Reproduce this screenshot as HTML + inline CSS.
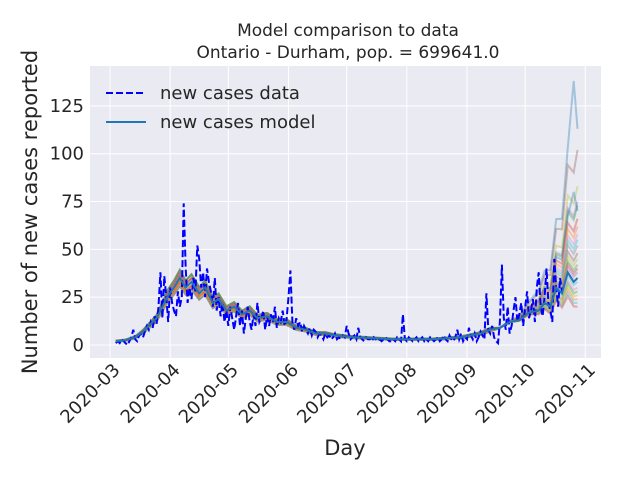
<!DOCTYPE html>
<html><head><meta charset="utf-8"><style>
body{margin:0;background:#fff;}
svg{font-family:"DejaVu Sans","Liberation Sans",sans-serif;}
</style></head><body>
<svg id="c" width="640" height="480">
<rect x="0" y="0" width="640" height="480" fill="#fff"/>
<rect x="90" y="66" width="511" height="292" fill="#eaeaf2"/>
<g id="grid"></g><g id="ens"></g><g id="series"></g><g id="axes"></g>
<text x="348" y="36" text-anchor="middle" font-size="17" fill="#262626">Model comparison to data</text>
<text x="348" y="58" text-anchor="middle" font-size="17" fill="#262626">Ontario - Durham, pop. = 699641.0</text>
<text x="345" y="455" text-anchor="middle" font-size="21" fill="#262626">Day</text>
<text transform="translate(37,212) rotate(-90)" text-anchor="middle" font-size="21" fill="#262626">Number of new cases reported</text>
<g>
<line x1="106" y1="93" x2="146" y2="93" stroke="#0000ff" stroke-width="2" stroke-dasharray="7,3"/>
<text x="160" y="99" font-size="18" fill="#262626">new cases data</text>
<line x1="106" y1="122" x2="146" y2="122" stroke="#1f77b4" stroke-width="2"/>
<text x="160" y="128" font-size="18" fill="#262626">new cases model</text>
</g>
</svg>
<script>
const yTicks=[0,25,50,75,100,125];
const xTickLabels=["2020-03","2020-04","2020-05","2020-06","2020-07","2020-08","2020-09","2020-10","2020-11"];
const xTickDays=[0,31,61,92,122,153,184,214,245];
const dataStartDay=3;
const caseData=[1,2,1,3,2,1,0,2,4,8,3,2,5,6,4,7,10,8,12,9,15,11,20,38,14,36,25,12,30,22,18,15,28,20,25,74,40,22,30,24,35,28,52,45,30,38,25,40,33,28,20,35,18,25,15,22,12,18,10,20,14,8,15,22,10,18,6,14,20,12,8,16,10,22,12,14,18,8,15,10,16,12,20,9,14,12,18,10,13,25,39,12,8,14,10,12,7,10,8,6,9,5,8,7,4,6,5,3,6,4,5,3,4,6,3,4,3,5,4,10,6,3,4,5,3,9,4,3,2,4,3,3,2,4,3,2,3,2,3,4,3,2,2,3,2,4,3,2,16,3,2,4,3,2,3,4,2,3,4,2,3,2,4,3,2,3,4,2,3,5,3,2,5,3,2,4,8,3,6,2,4,3,9,5,3,6,2,4,7,5,3,27,8,6,10,4,2,1,12,42,14,8,20,6,10,18,25,12,16,22,10,20,28,14,18,24,12,30,38,20,15,25,40,22,18,12,45,30,20,35,28];
const modelDays=[3,8,13,17,20,24,27,30,33,36,39,42,46,49,53,56,60,64,68,72,76,81,86,91,96,101,106,111,116,126,136,146,156,166,174,181,186,191,196,201,206,211,216,221,224,227,230,233,236,239,241];
const modelVals=[2,2.5,4,7,10,14,20,26,30,35,30,33,27,30,22,24,18,20,16,18,14,15,12,12,9,8,6,6,5,4,3.5,3,3,3,3.5,4,5,6,8,9,12,13,17,18,22,20,30,27,38,33,35];
const ensembleEnd=[113,102,83,75,73,70,66,62,58,55,52,48,45,42,40,38,35,33,30,28,26,24,22,20];
const ensemblePeak=[138,102,83,75,73,80,66,62,58,55,52,48,45,42,40,38,35,33,30,28,26,24,22,20];
const ensembleColors=["#1f77b4","#8c564b","#bcbd22","#9467bd","#2ca02c","#1f77b4","#d62728","#ff7f0e","#e377c2","#17becf","#7f7f7f","#8c564b","#bcbd22","#2ca02c","#d62728","#9467bd","#ff7f0e","#17becf","#e377c2","#2ca02c","#bcbd22","#ff7f0e","#17becf","#d62728"];
const X=d=>110+d*1.94, Y=v=>345-v*1.913;
const NS="http://www.w3.org/2000/svg";
function mk(p,t,a){const e=document.createElementNS(NS,t);for(const k in a)e.setAttribute(k,a[k]);document.getElementById(p).appendChild(e);return e;}
yTicks.forEach(v=>{
 const l=mk('grid','line',{x1:90,x2:601,y1:Y(v),y2:Y(v),stroke:'#fff','stroke-width':1});
 
 
 const t=mk('axes','text',{x:84,y:Y(v)+6,'text-anchor':'end','font-size':18,fill:'#262626'});t.textContent=v;
 
 
});
xTickDays.forEach((d,i)=>{
 const l=mk('grid','line',{x1:X(d),x2:X(d),y1:66,y2:358,stroke:'#fff','stroke-width':1});
 
 
 const t=mk('axes','text',{transform:`translate(${X(d)+11},${371}) rotate(-45)`,'text-anchor':'end','font-size':18,fill:'#262626'});t.textContent=xTickLabels[i];
 
 
});
const lastMed=modelVals[modelVals.length-1];
ensembleEnd.forEach((end,k)=>{
 const j=(k%5-2)*0.06;
 const pts=modelDays.map((d,i)=>{let v=modelVals[i]*(1+j);
  if(d>=200){const w=(d-200)/41;const f=end/lastMed;v=modelVals[i]*(1+(f-1)*w*w);
   if(ensemblePeak[k]>end&&d===239)v=ensemblePeak[k];}
  return X(d).toFixed(1)+','+Y(v).toFixed(1);}).join(' ');
 const p=mk('ens','polyline',{points:pts,fill:'none',stroke:ensembleColors[k],'stroke-width':2,'stroke-opacity':0.35});
 
 
});
const dp=caseData.map((v,i)=>X(dataStartDay+i).toFixed(1)+','+Y(v).toFixed(1)).join(' ');
const dl=mk('series','polyline',{points:dp,fill:'none',stroke:'#0000ff','stroke-width':2,'stroke-dasharray':'7,3'});


const mp=modelDays.map((d,i)=>X(d).toFixed(1)+','+Y(modelVals[i]).toFixed(1)).join(' ');
const ml=mk('series','polyline',{points:mp,fill:'none',stroke:'#1f77b4','stroke-width':2});


</script>
</body></html>
